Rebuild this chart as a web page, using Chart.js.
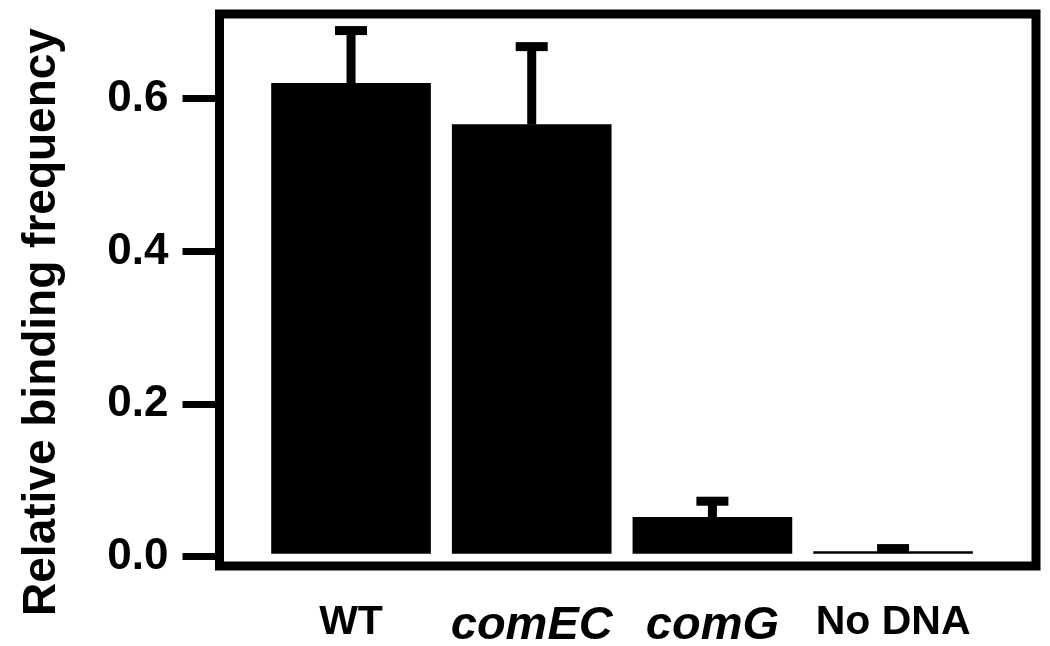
<!DOCTYPE html>
<html>
<head>
<meta charset="utf-8">
<script src="https://cdn.jsdelivr.net/npm/chart.js@4"></script>
<style>
  html, body { margin: 0; padding: 0; background: #fff; }
</style>
</head>
<body>
<canvas id="bindingChart" width="1050" height="646"></canvas>
<script>
// data
const strains = ["WT", "comEC", "comG", "No DNA"];
const italicStrain = [false, true, true, false];   // gene names are set in italics
const bindingFreq = [0.62, 0.566, 0.052, 0.007];
const bindingErr = [0.069, 0.102, 0.021, 0.004];   // upper error only
const yTicks = [0, 0.2, 0.4, 0.6];
const yTitle = "Relative binding frequency";

const FONT = '"Liberation Sans", Arial, Helvetica, sans-serif';

// box around the plot + the y title
const framePlugin = {
    id: 'frame',
    afterDraw(chart) {
        const { ctx, chartArea: a } = chart;
        ctx.save();
        ctx.strokeStyle = '#000';
        ctx.lineWidth = 9;
        ctx.strokeRect(a.left, a.top, a.right - a.left, a.bottom - a.top);

        ctx.fillStyle = '#000';
        ctx.font = 'bold 46px ' + FONT;
        ctx.textAlign = 'center';
        ctx.textBaseline = 'middle';
        ctx.translate(42, (a.top + a.bottom) / 2 + 32);
        ctx.rotate(-Math.PI / 2);
        ctx.fillText(yTitle, 0, 0);
        ctx.restore();
    }
};

// T-shaped error bars on top of each column
const errorBarPlugin = {
    id: 'errorBars',
    afterDatasetsDraw(chart) {
        const { ctx, scales: { x, y } } = chart;
        ctx.save();
        ctx.fillStyle = '#000';
        strains.forEach((s, i) => {
            const cx = x.getPixelForValue(i);
            const base = y.getPixelForValue(bindingFreq[i]);
            const top = y.getPixelForValue(bindingFreq[i] + bindingErr[i]);
            ctx.fillRect(cx - 4.5, top, 9, base - top);
            ctx.fillRect(cx - 16, top - 4.5, 32, 9);
        });
        ctx.restore();
    }
};

const ctx = document.getElementById('bindingChart').getContext('2d');
new Chart(ctx, {
    type: 'bar',
    data: {
        datasets: [{
            data: strains.map((s, i) => ({ x: i, y: bindingFreq[i] })),
            backgroundColor: '#000',
            borderWidth: 0,
            barThickness: 159
        }]
    },
    options: {
        responsive: false,
        animation: false,
        layout: { padding: { top: 14, right: 14, left: 0, bottom: 0 } },
        plugins: { legend: { display: false }, tooltip: { enabled: false } },
        scales: {
            x: {
                type: 'linear',
                offset: false,
                min: -0.728,
                max: 3.791,
                grid: { display: false },
                border: { display: false },
                afterBuildTicks(s) { s.ticks = strains.map((_, i) => ({ value: i })); },
                afterFit(s) { s.height = 80; s.paddingLeft = 0; s.paddingRight = 0; },
                ticks: {
                    color: '#000',
                    padding: 24,
                    autoSkip: false,
                    maxRotation: 0,
                    callback: v => strains[Math.round(v)],
                    font: c => ({
                        family: FONT,
                        size: italicStrain[c.index] ? 47 : 41,
                        weight: 'bold',
                        style: italicStrain[c.index] ? 'italic' : 'normal'
                    })
                }
            },
            y: {
                min: -0.0118,
                max: 0.7107,
                border: { display: false },
                grid: { drawOnChartArea: false, tickLength: 37, lineWidth: 7, color: '#000' },
                afterBuildTicks(s) { s.ticks = yTicks.map(v => ({ value: v })); },
                afterFit(s) { s.width = 219.5; s.paddingTop = 0; s.paddingBottom = 0; },
                ticks: {
                    color: '#000',
                    padding: 14,
                    font: { family: FONT, size: 44, weight: 'bold' },
                    callback: v => v.toFixed(1)
                }
            }
        }
    },
    plugins: [framePlugin, errorBarPlugin]
});
</script>
</body>
</html>
